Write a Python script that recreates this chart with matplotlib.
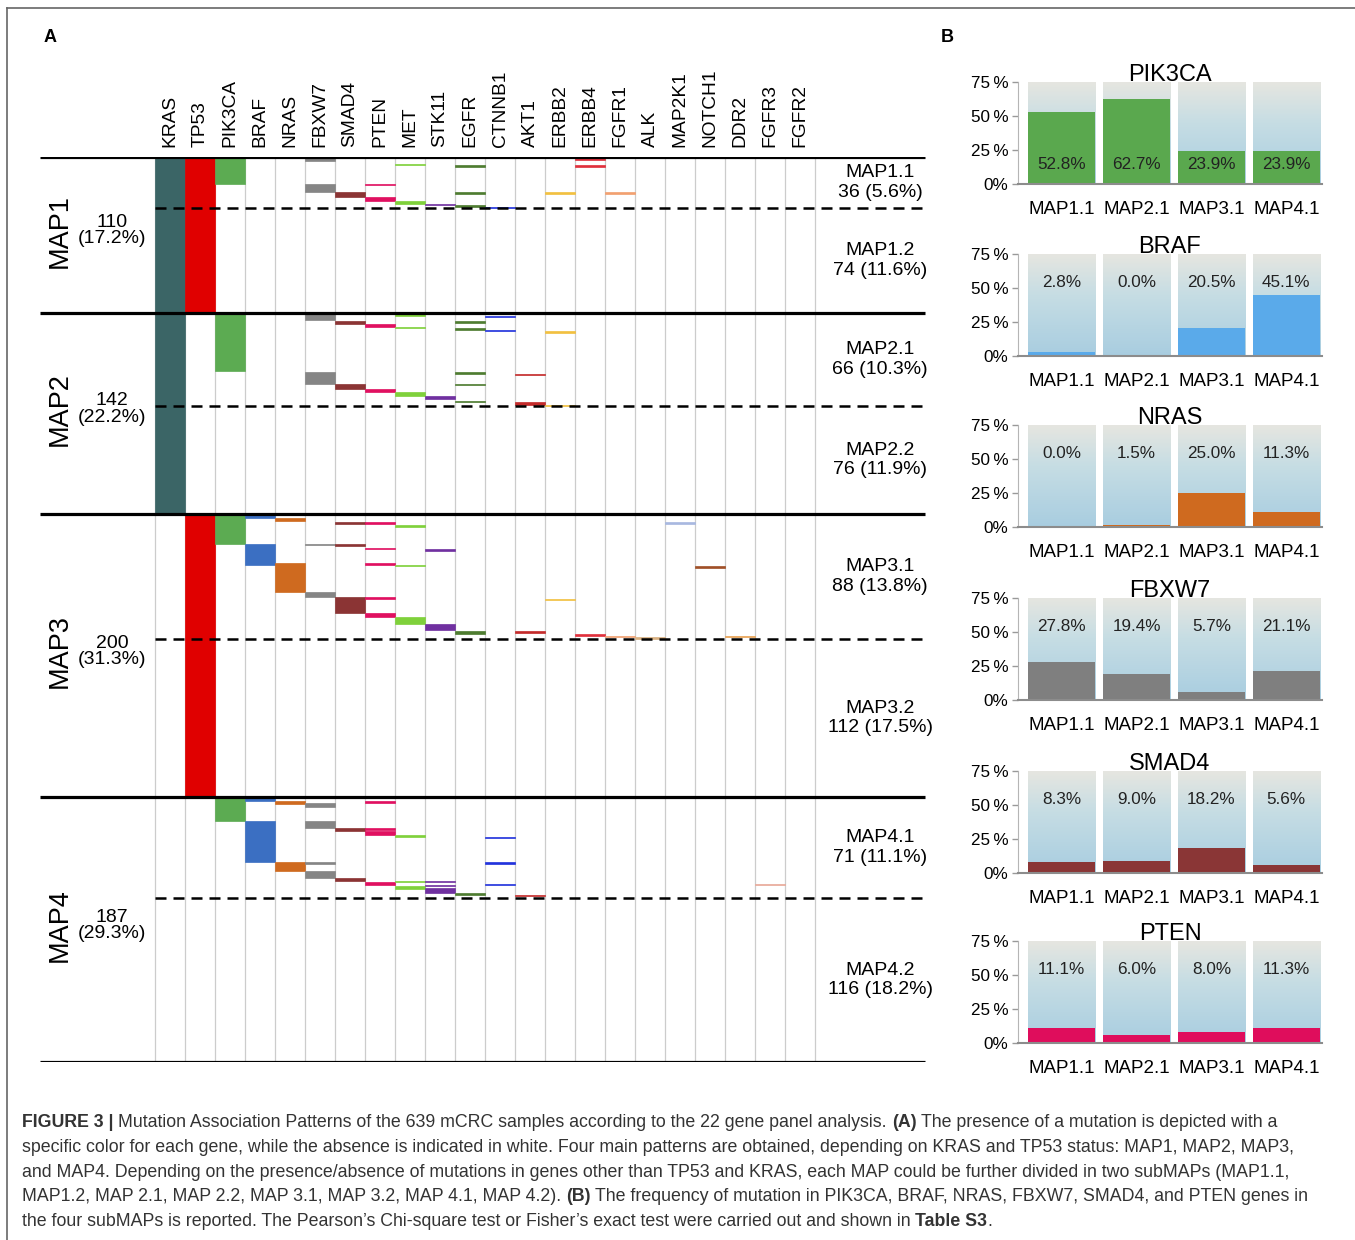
import numpy as np
import matplotlib
matplotlib.use("Agg")
import matplotlib.pyplot as plt
from matplotlib.colors import LinearSegmentedColormap

plt.rcParams['font.family'] = ['Liberation Sans', 'DejaVu Sans']

W, H = 1355, 1240

# ---- panel A data: samples sorted by MAP, mutated rows per gene as (first row, n rows)
genes = ["KRAS", "TP53", "PIK3CA", "BRAF", "NRAS", "FBXW7", "SMAD4", "PTEN", "MET",
         "STK11", "EGFR", "CTNNB1", "AKT1", "ERBB2", "ERBB4", "FGFR1", "ALK",
         "MAP2K1", "NOTCH1", "DDR2", "FGFR3", "FGFR2"]
gene_colors = ['#3b6566', '#e00000', '#5cab52', '#3b6fc2', '#cf6a1f', '#858585',
               '#8b3434', '#e01060', '#7fd13b', '#7030a0', '#4e7c30', '#2233dd',
               '#c42b2b', '#f2c040', '#e0303c', '#f2a070', '#d8b080', '#a8b8e0',
               '#a05028', '#e8a050', '#e8a898', '#ffffff']

kras_rows = [(0, 252)]
tp53_rows = [(0, 110), (252, 200)]
pik3ca_rows = [(0, 19), (110, 41), (252, 21), (452, 17)]
braf_rows = [(252, 3), (273, 15), (452, 3), (469, 29)]
nras_rows = [(255, 2), (287, 20), (455, 2), (498, 6)]
fbxw7_rows = [(0, 3), (19, 6), (110, 5), (152, 8), (273, 1), (307, 4),
              (456, 3), (469, 5), (498, 1), (504, 5)]
smad4_rows = [(25, 3), (116, 2), (160, 4), (258, 1), (273, 2), (311, 11),
              (474, 2), (509, 2)]
pten_rows = [(19, 1), (28, 3), (118, 2), (164, 2), (258, 1), (276, 1), (287, 1),
             (311, 1), (322, 3), (455, 1), (474, 1), (476, 3), (512, 2)]
met_rows = [(5, 1), (31, 2), (111, 1), (120, 1), (166, 3), (260, 1), (288, 1),
            (325, 5), (479, 1), (511, 1), (515, 2)]
stk11_rows = [(33, 1), (169, 2), (277, 1), (330, 4), (511, 1), (514, 1), (516, 4)]
egfr_rows = [(6, 1), (25, 1), (34, 1), (116, 1), (121, 1), (152, 1), (160, 1),
             (172, 1), (335, 2), (520, 1)]
ctnnb1_rows = [(35, 1), (112, 1), (122, 1), (252, 1), (480, 1), (498, 1), (513, 1)]
akt1_rows = [(153, 1), (173, 2), (335, 1), (521, 1)]
erbb2_rows = [(25, 1), (123, 1), (175, 1), (312, 1)]
erbb4_rows = [(1, 1), (6, 1), (337, 1)]
fgfr1_rows = [(25, 1), (338, 1)]
alk_rows = [(339, 1)]
map2k1_rows = [(258, 1)]
notch1_rows = [(289, 1)]
ddr2_rows = [(338, 1)]
fgfr3_rows = [(513, 1)]
fgfr2_rows = []

gene_rows = [kras_rows, tp53_rows, pik3ca_rows, braf_rows, nras_rows, fbxw7_rows,
             smad4_rows, pten_rows, met_rows, stk11_rows, egfr_rows, ctnnb1_rows,
             akt1_rows, erbb2_rows, erbb4_rows, fgfr1_rows, alk_rows, map2k1_rows,
             notch1_rows, ddr2_rows, fgfr3_rows, fgfr2_rows]

map_names = ["MAP1", "MAP2", "MAP3", "MAP4"]
map_sizes = [110, 142, 200, 187]
map_pct = ["17.2%", "22.2%", "31.3%", "29.3%"]
submap_names = ["MAP1.1", "MAP1.2", "MAP2.1", "MAP2.2", "MAP3.1", "MAP3.2", "MAP4.1", "MAP4.2"]
submap_sizes = [36, 74, 66, 76, 88, 112, 71, 116]
submap_pct = ["5.6%", "11.6%", "10.3%", "11.9%", "13.8%", "17.5%", "11.1%", "18.2%"]

# ---- panel B data: % mutated in the x.1 subMAPs
b_groups = ["MAP1.1", "MAP2.1", "MAP3.1", "MAP4.1"]
b_genes = ["PIK3CA", "BRAF", "NRAS", "FBXW7", "SMAD4", "PTEN"]
pik3ca_pct = [52.8, 62.7, 23.9, 23.9]
braf_pct = [2.8, 0.0, 20.5, 45.1]
nras_pct = [0.0, 1.5, 25.0, 11.3]
fbxw7_pct = [27.8, 19.4, 5.7, 21.1]
smad4_pct = [8.3, 9.0, 18.2, 5.6]
pten_pct = [11.1, 6.0, 8.0, 11.3]
b_values = [pik3ca_pct, braf_pct, nras_pct, fbxw7_pct, smad4_pct, pten_pct]
b_colors = ['#5aa84e', '#5aaaea', '#cf6a1f', '#7f7f7f', '#8a3636', '#df0d5c']

fig = plt.figure(figsize=(W / 100, H / 100), dpi=100)

# outer frame (top and left edges only)
fig.add_artist(plt.Line2D([7 / W, 1], [1 - 8 / H, 1 - 8 / H], color='#666666', lw=1.2))
fig.add_artist(plt.Line2D([7 / W, 7 / W], [0, 1 - 8 / H], color='#666666', lw=1.2))

fig.text(50 / W, 1 - 37 / H, "A", fontsize=13, fontweight='bold', va='center', ha='center')
fig.text(947 / W, 1 - 37 / H, "B", fontsize=13, fontweight='bold', va='center', ha='center')

# ---------------- panel A ----------------
n_samples = sum(map_sizes)
ax = fig.add_axes([30 / W, 1 - 1062 / H, 910 / W, 905 / H])
ax.set_xlim(-125 / 30, 785 / 30)
ax.set_ylim(n_samples, 0)
ax.set_axis_off()

ngenes = len(genes)
ax.vlines(np.arange(ngenes + 1), 0, n_samples, color='#cccccc', lw=0.9, zorder=0.5)
for i, (rows, col) in enumerate(zip(gene_rows, gene_colors)):
    for start, n in rows:
        ax.bar(i + 0.5, n, bottom=start, width=1.0, color=col, edgecolor=col,
               linewidth=0.5, zorder=1)

map_ends = np.cumsum(map_sizes)
map_starts = map_ends - np.array(map_sizes)
sub_bounds = map_starts + np.array(submap_sizes[0::2])
x_left, x_right = -115 / 30, 770 / 30
ax.hlines(np.concatenate([[0], map_ends]), x_left, x_right, color='black', lw=2.3, zorder=3)
ax.hlines(sub_bounds, 0, x_right, color='black', lw=1.8, linestyles=(0, (4.4, 2.8)), zorder=3)

for i, g in enumerate(genes):
    ax.text(i + 0.5, -7, g, rotation=90, ha='center', va='bottom', fontsize=13.8)

for name, s0, n, pct in zip(map_names, map_starts, map_sizes, map_pct):
    mid = s0 + n / 2 - 3
    ax.text(-95 / 30, mid, name, rotation=90, ha='center', va='center', fontsize=19.5)
    ax.text(-43 / 30, mid, f"{n}\n({pct})", ha='center', va='center', fontsize=14,
            linespacing=0.95)

sub_starts = np.cumsum([0] + submap_sizes[:-1])
for name, s0, n, pct in zip(submap_names, sub_starts, submap_sizes, submap_pct):
    ax.text(725 / 30, s0 + n / 2, f"{name}\n{n} ({pct})", ha='center', va='center',
            fontsize=14, linespacing=1.2)

# ---------------- panel B ----------------
b_tops = [82, 254, 425, 598, 771, 941]
grad = np.linspace(1, 0, 256).reshape(-1, 1)
bg_cmap = LinearSegmentedColormap.from_list(
    "bg", [(0, '#a8cde0'), (0.6, '#c6dde4'), (1, '#e6e6e0')])
xs = np.arange(len(b_groups))
for gene, vals, col, top in zip(b_genes, b_values, b_colors, b_tops):
    bx = fig.add_axes([1018 / W, 1 - (top + 102) / H, 304 / W, 102 / H])
    for x in xs:
        bx.imshow(grad, extent=(x - 0.45, x + 0.45, 0, 75), cmap=bg_cmap,
                  aspect='auto', origin='upper', zorder=0)
    bx.bar(xs, vals, width=0.9, color=col, linewidth=0, zorder=1)
    label_y = 14 if gene == "PIK3CA" else 54
    for x, v in zip(xs, vals):
        bx.text(x, label_y, f"{v:.1f}%", ha='center', va='center', fontsize=12.3,
                color='#222222', zorder=2)
    bx.set_xlim(-0.585, 3.477)
    bx.set_ylim(0, 75)
    bx.set_yticks([0, 25, 50, 75])
    bx.set_yticklabels(["0%", "25\u2009%", "50\u2009%", "75\u2009%"], fontsize=12.3)
    bx.set_xticks(xs)
    bx.set_xticklabels(b_groups, fontsize=13.5)
    bx.tick_params(axis='x', length=0, pad=12)
    bx.tick_params(axis='y', length=4, width=1, color='#999999', pad=3)
    for s in ['top', 'right']:
        bx.spines[s].set_visible(False)
    bx.spines['left'].set_color('#b5b5b5')
    bx.spines['bottom'].set_color('#8c8c8c')
    bx.spines['bottom'].set_linewidth(1.5)
    bx.text(0.5, 1.01, gene, transform=bx.transAxes, ha='center', va='baseline',
            fontsize=17)

# ---------------- caption ----------------
caption = [
    [("FIGURE 3 |", True),
     (" Mutation Association Patterns of the 639 mCRC samples according to the 22 gene panel analysis. ", False),
     ("(A)", True), (" The presence of a mutation is depicted with a", False)],
    [("specific color for each gene, while the absence is indicated in white. Four main patterns are obtained, depending on KRAS and TP53 status: MAP1, MAP2, MAP3,", False)],
    [("and MAP4. Depending on the presence/absence of mutations in genes other than TP53 and KRAS, each MAP could be further divided in two subMAPs (MAP1.1,", False)],
    [("MAP1.2, MAP 2.1, MAP 2.2, MAP 3.1, MAP 3.2, MAP 4.1, MAP 4.2). ", False), ("(B)", True),
     (" The frequency of mutation in PIK3CA, BRAF, NRAS, FBXW7, SMAD4, and PTEN genes in", False)],
    [("the four subMAPs is reported. The Pearson\u2019s Chi-square test or Fisher\u2019s exact test were carried out and shown in ", False),
     ("Table S3", True), (".", False)],
]
cap_size = 12.75
renderer = fig.canvas.get_renderer()


def text_width(s, weight):
    t = fig.text(0, 0, s, fontsize=cap_size, fontweight=weight)
    w = t.get_window_extent(renderer).width
    t.remove()
    return w


space_w = {wt: text_width("a a", wt) - text_width("aa", wt) for wt in ('normal', 'bold')}
for k, parts in enumerate(caption):
    xp = 22.0
    yp = 1127 + k * 24.8
    for s, bold in parts:
        wt = 'bold' if bold else 'normal'
        xp += space_w[wt] * (len(s) - len(s.lstrip(' ')))
        core = s.strip(' ')
        t = fig.text(xp / W, 1 - yp / H, core, fontsize=cap_size, fontweight=wt,
                     color='#333333', va='baseline', ha='left')
        xp += t.get_window_extent(renderer).width
        xp += space_w[wt] * (len(s) - len(s.rstrip(' ')))

fig.savefig("out.png", dpi=100)
